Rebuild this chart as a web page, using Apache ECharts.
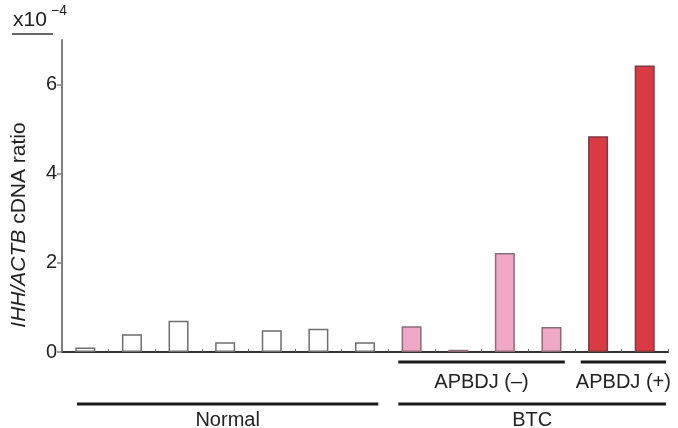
<!DOCTYPE html>
<html>
<head>
<meta charset="utf-8">
<script src="https://cdn.jsdelivr.net/npm/echarts@6/dist/echarts.min.js"></script>
<style>html,body{margin:0;padding:0;background:#fff}#c{width:678px;height:428px}</style>
</head>
<body>
<div id="c"></div>
<script>
const categories = ['N1','N2','N3','N4','N5','N6','N7','B1','B2','B3','B4','B5','B6'];
const ratioValues = [0.10, 0.40, 0.70, 0.22, 0.49, 0.52, 0.22, 0.58, 0.05, 2.22, 0.56, 4.84, 6.43];
const groupOf = ['normal','normal','normal','normal','normal','normal','normal','neg','neg','neg','neg','pos','pos'];
const yTicks = [0, 2, 4, 6];
const brackets = [
  {label: 'APBDJ (–)', from: 7, to: 10, row: 0},
  {label: 'APBDJ (+)', from: 11, to: 12, row: 0},
  {label: 'Normal', from: 0, to: 6, row: 1},
  {label: 'BTC', from: 7, to: 12, row: 1}
];

const styles = {
  normal: {color: '#ffffff', borderColor: '#6e6e6e', borderWidth: 1.5},
  neg: {color: '#efa9c7', borderColor: '#8c6a78', borderWidth: 1.5},
  pos: {color: '#da3a43', borderColor: '#7d3b3d', borderWidth: 1.5}
};
const font = 'Liberation Sans, Arial, Helvetica, sans-serif';

const chart = echarts.init(document.getElementById('c'), null, {renderer: 'canvas'});
chart.setOption({
  animation: false,
  backgroundColor: '#ffffff',
  grid: {left: 62, right: 10, top: 40, bottom: 76, containLabel: false, outerBoundsMode: 'none'},
  xAxis: {
    type: 'category',
    data: categories,
    boundaryGap: true,
    axisLine: {lineStyle: {color: '#333', width: 2}},
    axisTick: {show: true, inside: true, length: 3, lineStyle: {color: '#666', width: 1}},
    axisLabel: {show: false},
    splitLine: {show: false}
  },
  yAxis: {
    type: 'value',
    min: 0, max: 7, interval: 1,
    axisLine: {show: true, lineStyle: {color: '#808080', width: 2}},
    axisTick: {show: true, length: 5, customValues: yTicks, lineStyle: {color: '#808080', width: 1.5}},
    axisLabel: {customValues: yTicks, fontFamily: font, fontSize: 20, color: '#222', margin: 5},
    splitLine: {show: false}
  },
  series: [{
    type: 'bar',
    barWidth: 20,
    data: ratioValues.map((v, i) => ({value: v, itemStyle: styles[groupOf[i]]}))
  }]
});

function drawAnnotations() {
  const p0 = chart.convertToPixel({xAxisIndex: 0}, 0);
  const p1 = chart.convertToPixel({xAxisIndex: 0}, 1);
  const step = p1 - p0;
  const elements = [];
  const rowY = [362, 404];
  const textY = [382, 420];
  brackets.forEach(b => {
    const xs = chart.convertToPixel({xAxisIndex: 0}, b.from) - step / 2;
    const xe = chart.convertToPixel({xAxisIndex: 0}, b.to) + step / 2;
    let x1 = xs + 10, x2 = xe - 10;
    if (b.from === 0) x1 = xs + 15;
    if (b.from === 11) x1 = xs + 6;
    if (b.to === 12) x2 = xe - 2;
    elements.push({type: 'line', shape: {x1: x1, y1: rowY[b.row], x2: x2, y2: rowY[b.row]},
      style: {stroke: '#1a1a1a', lineWidth: 3}, silent: true});
    elements.push({type: 'text', x: (x1 + x2) / 2, y: textY[b.row],
      style: {text: b.label, fontFamily: font, fontSize: 20, fill: '#222', align: 'center', verticalAlign: 'middle'}});
  });
  // y-axis title
  elements.push({type: 'text', x: 19, y: 225, rotation: Math.PI / 2,
    style: {text: '{i|IHH/ACTB} cDNA ratio', fontFamily: font, fontSize: 21, fill: '#222', align: 'center', verticalAlign: 'middle',
      rich: {i: {fontFamily: font, fontSize: 21, fontStyle: 'italic', fill: '#222'}}}});
  // exponent label
  elements.push({type: 'text', x: 13, y: 20, style: {text: 'x10', fontFamily: font, fontSize: 21, fill: '#222', align: 'left', verticalAlign: 'middle'}});
  elements.push({type: 'text', x: 51, y: 11, style: {text: '−4', fontFamily: font, fontSize: 14, fill: '#222', align: 'left', verticalAlign: 'middle'}});
  elements.push({type: 'line', shape: {x1: 12, y1: 34, x2: 53, y2: 34}, style: {stroke: '#333', lineWidth: 1.5}});
  chart.setOption({graphic: elements});
}
drawAnnotations();
</script>
</body>
</html>
